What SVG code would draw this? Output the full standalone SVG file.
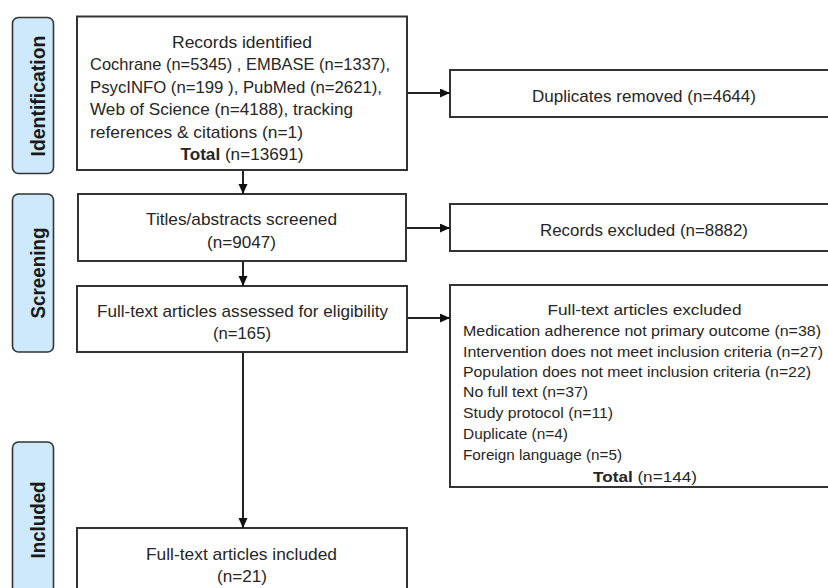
<svg xmlns="http://www.w3.org/2000/svg" width="828" height="588" viewBox="0 0 828 588">
<style>
  .box{fill:#ffffff;stroke:#333333;stroke-width:2}
  .lbl{fill:#cde9fb;stroke:#333333;stroke-width:1.6}
  .t{font-family:"Liberation Sans",Arial,sans-serif;font-size:17px;fill:#262626}
  .s{font-family:"Liberation Sans",Arial,sans-serif;font-size:15.5px;fill:#262626}
  .c{text-anchor:middle}
  .b{font-weight:bold}
  .lt{font-family:"Liberation Sans",Arial,sans-serif;font-size:20px;font-weight:bold;fill:#1a1a1a;text-anchor:middle}
  .conn{fill:none;stroke:#222222;stroke-width:2}
</style>
<defs>
  <marker id="arr" markerUnits="userSpaceOnUse" markerWidth="11" markerHeight="10" refX="10" refY="4.5" orient="auto">
    <path d="M0,0 L10,4.5 L0,9 z" fill="#111111"/>
  </marker>
</defs>
<rect width="828" height="588" fill="#ffffff"/>

<g id="label-identification">
  <rect class="lbl" x="12.5" y="17.5" width="41" height="156" rx="6"/>
  <text class="lt" transform="translate(44.5,96) rotate(-90)" x="0" y="0" textLength="121" lengthAdjust="spacingAndGlyphs">Identification</text>
</g>
<g id="label-screening">
  <rect class="lbl" x="12.5" y="194" width="41" height="158" rx="6"/>
  <text class="lt" transform="translate(44.5,273) rotate(-90)" x="0" y="0" textLength="91" lengthAdjust="spacingAndGlyphs">Screening</text>
</g>
<g id="label-included">
  <rect class="lbl" x="12.5" y="442" width="41" height="160" rx="6"/>
  <text class="lt" transform="translate(44.5,520) rotate(-90)" x="0" y="0" textLength="77" lengthAdjust="spacingAndGlyphs">Included</text>
</g>

<g id="records-identified">
  <rect class="box" x="77" y="16.5" width="330" height="153.5"/>
  <text class="t c" x="242" y="47.5" textLength="140" lengthAdjust="spacingAndGlyphs">Records identified</text>
  <text class="t" x="90" y="70" textLength="300" lengthAdjust="spacingAndGlyphs">Cochrane (n=5345) , EMBASE (n=1337),</text>
  <text class="t" x="90" y="92.5" textLength="292" lengthAdjust="spacingAndGlyphs">PsycINFO (n=199 ), PubMed (n=2621),</text>
  <text class="t" x="90" y="115" textLength="263" lengthAdjust="spacingAndGlyphs">Web of Science (n=4188), tracking</text>
  <text class="t" x="90" y="137.5" textLength="213" lengthAdjust="spacingAndGlyphs">references &amp; citations (n=1)</text>
  <text class="t c" x="242" y="160" textLength="123" lengthAdjust="spacingAndGlyphs"><tspan class="b">Total</tspan> (n=13691)</text>
</g>

<g id="titles-screened">
  <rect class="box" x="78" y="194" width="328" height="67"/>
  <text class="t c" x="241.5" y="225" textLength="191" lengthAdjust="spacingAndGlyphs">Titles/abstracts screened</text>
  <text class="t c" x="241.5" y="247.5" textLength="69" lengthAdjust="spacingAndGlyphs">(n=9047)</text>
</g>

<g id="fulltext-assessed">
  <rect class="box" x="77" y="286" width="330" height="66"/>
  <text class="t c" x="242.5" y="316.7" textLength="291" lengthAdjust="spacingAndGlyphs">Full-text articles assessed for eligibility</text>
  <text class="t c" x="242" y="339" textLength="58" lengthAdjust="spacingAndGlyphs">(n=165)</text>
</g>

<g id="fulltext-included">
  <rect class="box" x="77" y="528" width="330" height="72"/>
  <text class="t c" x="241.5" y="560" textLength="191" lengthAdjust="spacingAndGlyphs">Full-text articles included</text>
  <text class="t c" x="242" y="582" textLength="50" lengthAdjust="spacingAndGlyphs">(n=21)</text>
</g>

<g id="duplicates-removed">
  <rect class="box" x="450" y="70" width="390" height="47"/>
  <text class="t c" x="644" y="101.5" textLength="224" lengthAdjust="spacingAndGlyphs">Duplicates removed (n=4644)</text>
</g>

<g id="records-excluded">
  <rect class="box" x="450" y="204" width="390" height="47"/>
  <text class="t c" x="644" y="236" textLength="208" lengthAdjust="spacingAndGlyphs">Records excluded (n=8882)</text>
</g>

<g id="fulltext-excluded">
  <rect class="box" x="450" y="285" width="390" height="202"/>
  <text class="s c" x="644.5" y="315" textLength="194" lengthAdjust="spacingAndGlyphs">Full-text articles excluded</text>
  <text class="s" x="463" y="336" textLength="358" lengthAdjust="spacingAndGlyphs">Medication adherence not primary outcome (n=38)</text>
  <text class="s" x="463" y="356.5" textLength="360" lengthAdjust="spacingAndGlyphs">Intervention does not meet inclusion criteria (n=27)</text>
  <text class="s" x="463" y="376.5" textLength="348" lengthAdjust="spacingAndGlyphs">Population does not meet inclusion criteria (n=22)</text>
  <text class="s" x="463" y="397" textLength="125" lengthAdjust="spacingAndGlyphs">No full text (n=37)</text>
  <text class="s" x="463" y="418" textLength="150" lengthAdjust="spacingAndGlyphs">Study protocol (n=11)</text>
  <text class="s" x="463" y="438.5" textLength="105" lengthAdjust="spacingAndGlyphs">Duplicate (n=4)</text>
  <text class="s" x="463" y="459.5" textLength="159" lengthAdjust="spacingAndGlyphs">Foreign language (n=5)</text>
  <text class="s c" x="645" y="481.5" textLength="104" lengthAdjust="spacingAndGlyphs"><tspan class="b">Total</tspan> (n=144)</text>
</g>

<g id="connectors">
  <line class="conn" x1="243" y1="171" x2="243" y2="194" marker-end="url(#arr)"/>
  <line class="conn" x1="243" y1="262" x2="243" y2="286" marker-end="url(#arr)"/>
  <line class="conn" x1="243" y1="353" x2="243" y2="528" marker-end="url(#arr)"/>
  <line class="conn" x1="408" y1="93" x2="450" y2="93" marker-end="url(#arr)"/>
  <line class="conn" x1="407" y1="228" x2="450" y2="228" marker-end="url(#arr)"/>
  <line class="conn" x1="408" y1="318" x2="450" y2="318" marker-end="url(#arr)"/>
</g>
</svg>
